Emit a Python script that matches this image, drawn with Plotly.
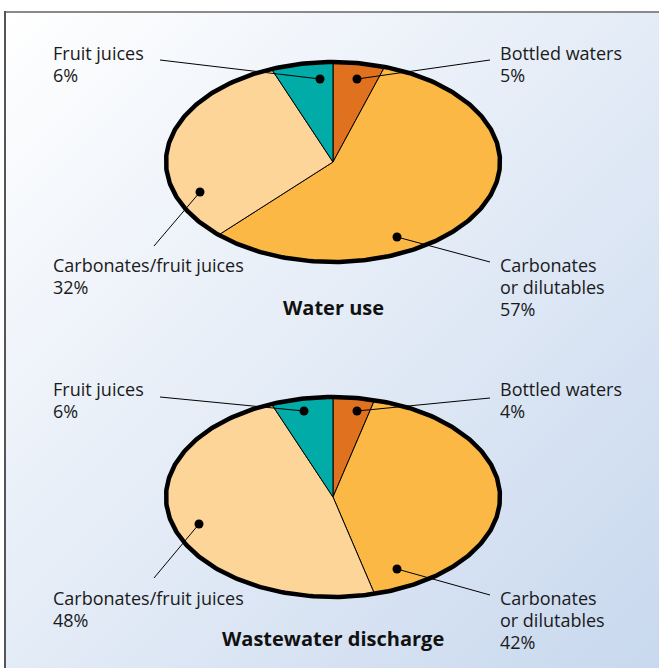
import base64
import numpy as np
import plotly.graph_objects as go

# data
categories = ["Bottled waters", "Carbonates<br>or dilutables",
              "Carbonates/fruit juices", "Fruit juices"]
water_use = [5, 57, 32, 6]
wastewater = [4, 42, 48, 6]
panel_titles = ["Water use", "Wastewater discharge"]

colors = ["#e0711f", "#fbb845", "#fdd598", "#00aba8"]
FONT = "Open Sans"
W, H = 659, 668
A, B = 167, 100   # ellipse semi-axes (px)
LINE_H = 22       # label line spacing (px)

# layout of the two panels: ellipse centre, label dots, leader ends, text anchors
panels = [
    dict(values=water_use, title=panel_titles[0], cx=333, cy=162, title_y=307,
         dots=[(357, 79), (397, 237), (200, 192), (320, 79)],
         ends=[(490, 60), (490, 262), (154, 246), (160, 60)],
         text=[(498, 52.5), (498, 265), (51, 265), (51, 52.5)]),
    dict(values=wastewater, title=panel_titles[1], cx=333, cy=497, title_y=638,
         dots=[(357, 411), (397, 569), (199, 524), (304, 411)],
         ends=[(490, 398), (490, 595), (154, 578), (160, 397)],
         text=[(498, 388.5), (498, 598), (51, 598), (51, 388.5)]),
]

fig = go.Figure()
annotations = []

for p in panels:
    cx, cy = p["cx"], p["cy"]
    total = sum(p["values"])
    start = 0.0
    for i, v in enumerate(p["values"]):
        t0 = start / total * 2 * np.pi
        t1 = (start + v) / total * 2 * np.pi
        start += v
        t = np.linspace(t0, t1, max(int((t1 - t0) / (2 * np.pi) * 400), 3))
        xs = np.concatenate([[cx], cx + A * np.sin(t), [cx]])
        ys = np.concatenate([[cy], cy - B * np.cos(t), [cy]])
        fig.add_trace(go.Scatter(
            x=xs, y=ys, mode="lines", fill="toself", fillcolor=colors[i],
            line=dict(color="black", width=1), hoverinfo="skip", showlegend=False,
        ))
    # thick outline
    t = np.linspace(0, 2 * np.pi, 400)
    fig.add_trace(go.Scatter(
        x=cx + A * np.sin(t), y=cy - B * np.cos(t), mode="lines",
        line=dict(color="black", width=4.5), hoverinfo="skip", showlegend=False,
    ))
    # leader lines + dots + labels
    for i, v in enumerate(p["values"]):
        (dx, dy), (ex, ey) = p["dots"][i], p["ends"][i]
        fig.add_trace(go.Scatter(
            x=[dx, ex], y=[dy, ey], mode="lines",
            line=dict(color="black", width=1), hoverinfo="skip", showlegend=False,
        ))
        fig.add_trace(go.Scatter(
            x=[dx], y=[dy], mode="markers",
            marker=dict(color="black", size=9), hoverinfo="skip", showlegend=False,
        ))
        tx, ty = p["text"][i]
        lines = categories[i].split("<br>") + [f"{v}%"]
        for k, ln in enumerate(lines):
            annotations.append(dict(
                x=tx, y=ty + k * LINE_H, xref="x", yref="y",
                xanchor="left", yanchor="middle", showarrow=False, text=ln,
                font=dict(family=FONT, size=18, color="#1a1a1a"),
            ))
    annotations.append(dict(
        x=cx, y=p["title_y"], xref="x", yref="y", xanchor="center", yanchor="middle",
        showarrow=False, text=f"<b>{p['title']}</b>",
        font=dict(family=FONT, size=20, color="#111111"),
    ))

svg = (
    f'<svg xmlns="http://www.w3.org/2000/svg" width="{W}" height="{H}">'
    '<defs><linearGradient id="g" x1="0" y1="0" x2="1" y2="1">'
    '<stop offset="0" stop-color="#ffffff"/><stop offset="1" stop-color="#c8d8ee"/>'
    '</linearGradient></defs>'
    f'<rect width="{W}" height="{H}" fill="url(#g)"/></svg>'
)
bg = "data:image/svg+xml;base64," + base64.b64encode(svg.encode()).decode()

fig.update_layout(
    width=W, height=H, margin=dict(l=0, r=0, t=0, b=0),
    paper_bgcolor="white", plot_bgcolor="rgba(0,0,0,0)",
    xaxis=dict(range=[0, W], visible=False, fixedrange=True),
    yaxis=dict(range=[H, 0], visible=False, fixedrange=True),
    annotations=annotations,
    images=[dict(source=bg, xref="paper", yref="paper", x=5 / W, y=1 - 12 / H,
                 sizex=1 - 5 / W, sizey=1 - 12 / H, xanchor="left", yanchor="top",
                 sizing="stretch", layer="below")],
    shapes=[
        dict(type="line", xref="x", yref="y", x0=4, y0=12, x1=W, y1=12,
             line=dict(color="#8a8a8a", width=2)),
        dict(type="line", xref="x", yref="y", x0=5, y0=11, x1=5, y1=H,
             line=dict(color="#555555", width=2)),
    ],
)

fig.write_html("out.html", config={"displayModeBar": False},
               post_script="document.body.style.margin='0';")
